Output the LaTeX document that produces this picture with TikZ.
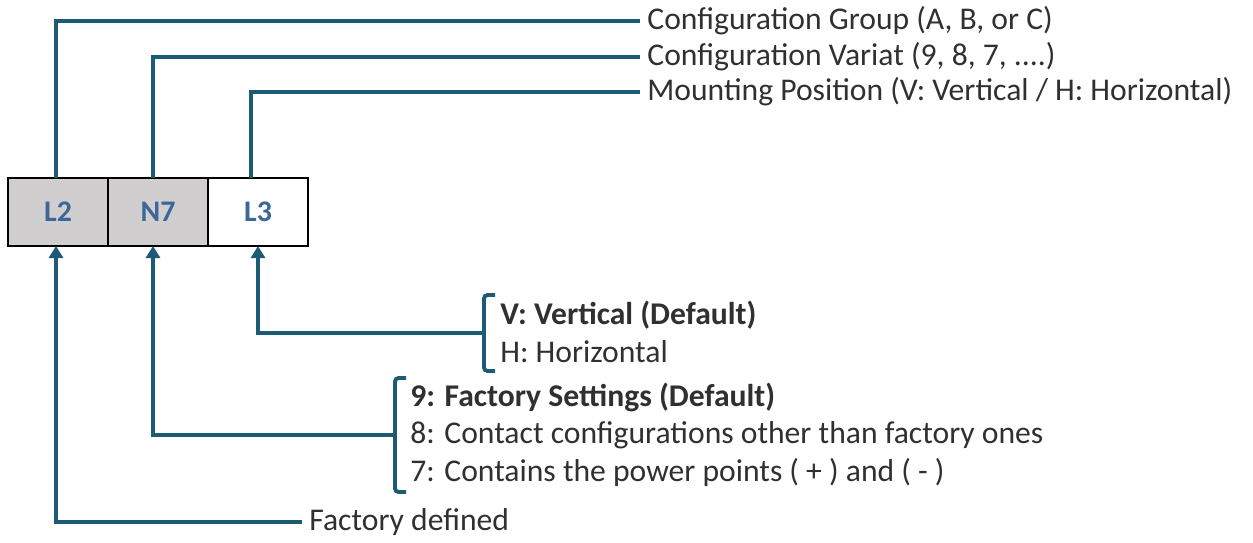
\documentclass[tikz,border=0pt]{standalone}
\usepackage{fontspec}
\setmainfont{Carlito}
\usetikzlibrary{arrows.meta, positioning, calc}
\usepackage{xcolor}
\definecolor{cfgline}{HTML}{1D5B74}
\definecolor{cfgblue}{HTML}{3D6699}
\definecolor{cfggray}{HTML}{D0CECE}
\definecolor{cfgtext}{HTML}{303030}

\begin{document}
\begin{tikzpicture}[
    code/.style={
        rectangle,
        minimum width=2cm,
        minimum height=1.36cm,
        inner sep=0pt,
        outer sep=0pt,
        draw=black,
        line width=0.8pt,
        fill=#1,
        text=cfgblue,
        font=\bfseries\fontsize{17}{20}\selectfont
    },
    desc/.style={
        anchor=west,
        inner sep=4pt,
        text=cfgtext,
        font=\fontsize{18}{21}\selectfont
    },
    link/.style={
        cfgline,
        line width=2.2pt
    },
    pointer/.style={
        link,
        -{Triangle[length=0.24cm, width=0.28cm]}
    },
    bracket/.style={
        link,
        rounded corners=2pt
    }
]

\useasboundingbox (0,0) rectangle (25.06,-10.84);

% Code boxes
\node[code=cfggray] (l2) at (1.16,-4.24) {L2};
\node[code=cfggray, right=0pt of l2] (n7) {N7};
\node[code=white, right=0pt of n7] (l3) {L3};

% Upper descriptions
\node[desc] (group) at (12.8,-0.42) {Configuration Group (A, B, or C)};
\node[desc] (variant) at (12.8,-1.14) {Configuration Variat (9, 8, 7, ....)};
\node[desc] (mount) at (12.8,-1.84) {Mounting Position (V: Vertical / H: Horizontal)};

\draw[link] ([xshift=-0.04cm]l2.north) |- (group.west);
\draw[link] ([xshift=-0.1cm]n7.north) |- (variant.west);
\draw[link] ([xshift=-0.14cm]l3.north) |- (mount.west);

% Mounting options
\node[desc, font=\bfseries\fontsize{18}{21}\selectfont] (vert) at (9.86,-6.3) {V: Vertical (Default)};
\node[desc] (horiz) at (9.86,-7.04) {H: Horizontal};
\coordinate (mbrk) at (9.68,-6.66);
\draw[bracket] ($(mbrk)+(0.22,0.76)$) -- ($(mbrk)+(0,0.76)$) -- ($(mbrk)+(0,-0.76)$) -- ($(mbrk)+(0.22,-0.76)$);
\draw[pointer] (mbrk) -| (l3.south);

% Variant options
\node[desc, font=\bfseries\fontsize{18}{21}\selectfont] (fs9) at (8.06,-7.94) {9: Factory Settings (Default)};
\node[desc] (fs8) at (8.06,-8.7) {8: Contact configurations other than factory ones};
\node[desc] (fs7) at (8.06,-9.44) {7: Contains the power points ( + ) and ( - )};
\coordinate (vbrk) at (7.9,-8.7);
\draw[bracket] ($(vbrk)+(0.22,1.14)$) -- ($(vbrk)+(0,1.14)$) -- ($(vbrk)+(0,-1.14)$) -- ($(vbrk)+(0.22,-1.14)$);
\draw[pointer] (vbrk) -| ([xshift=-0.1cm]n7.south);

% Group
\node[desc] (factory) at (6.04,-10.44) {Factory defined};
\draw[pointer] (factory.west) -| ([xshift=-0.04cm]l2.south);

\end{tikzpicture}
\end{document}
